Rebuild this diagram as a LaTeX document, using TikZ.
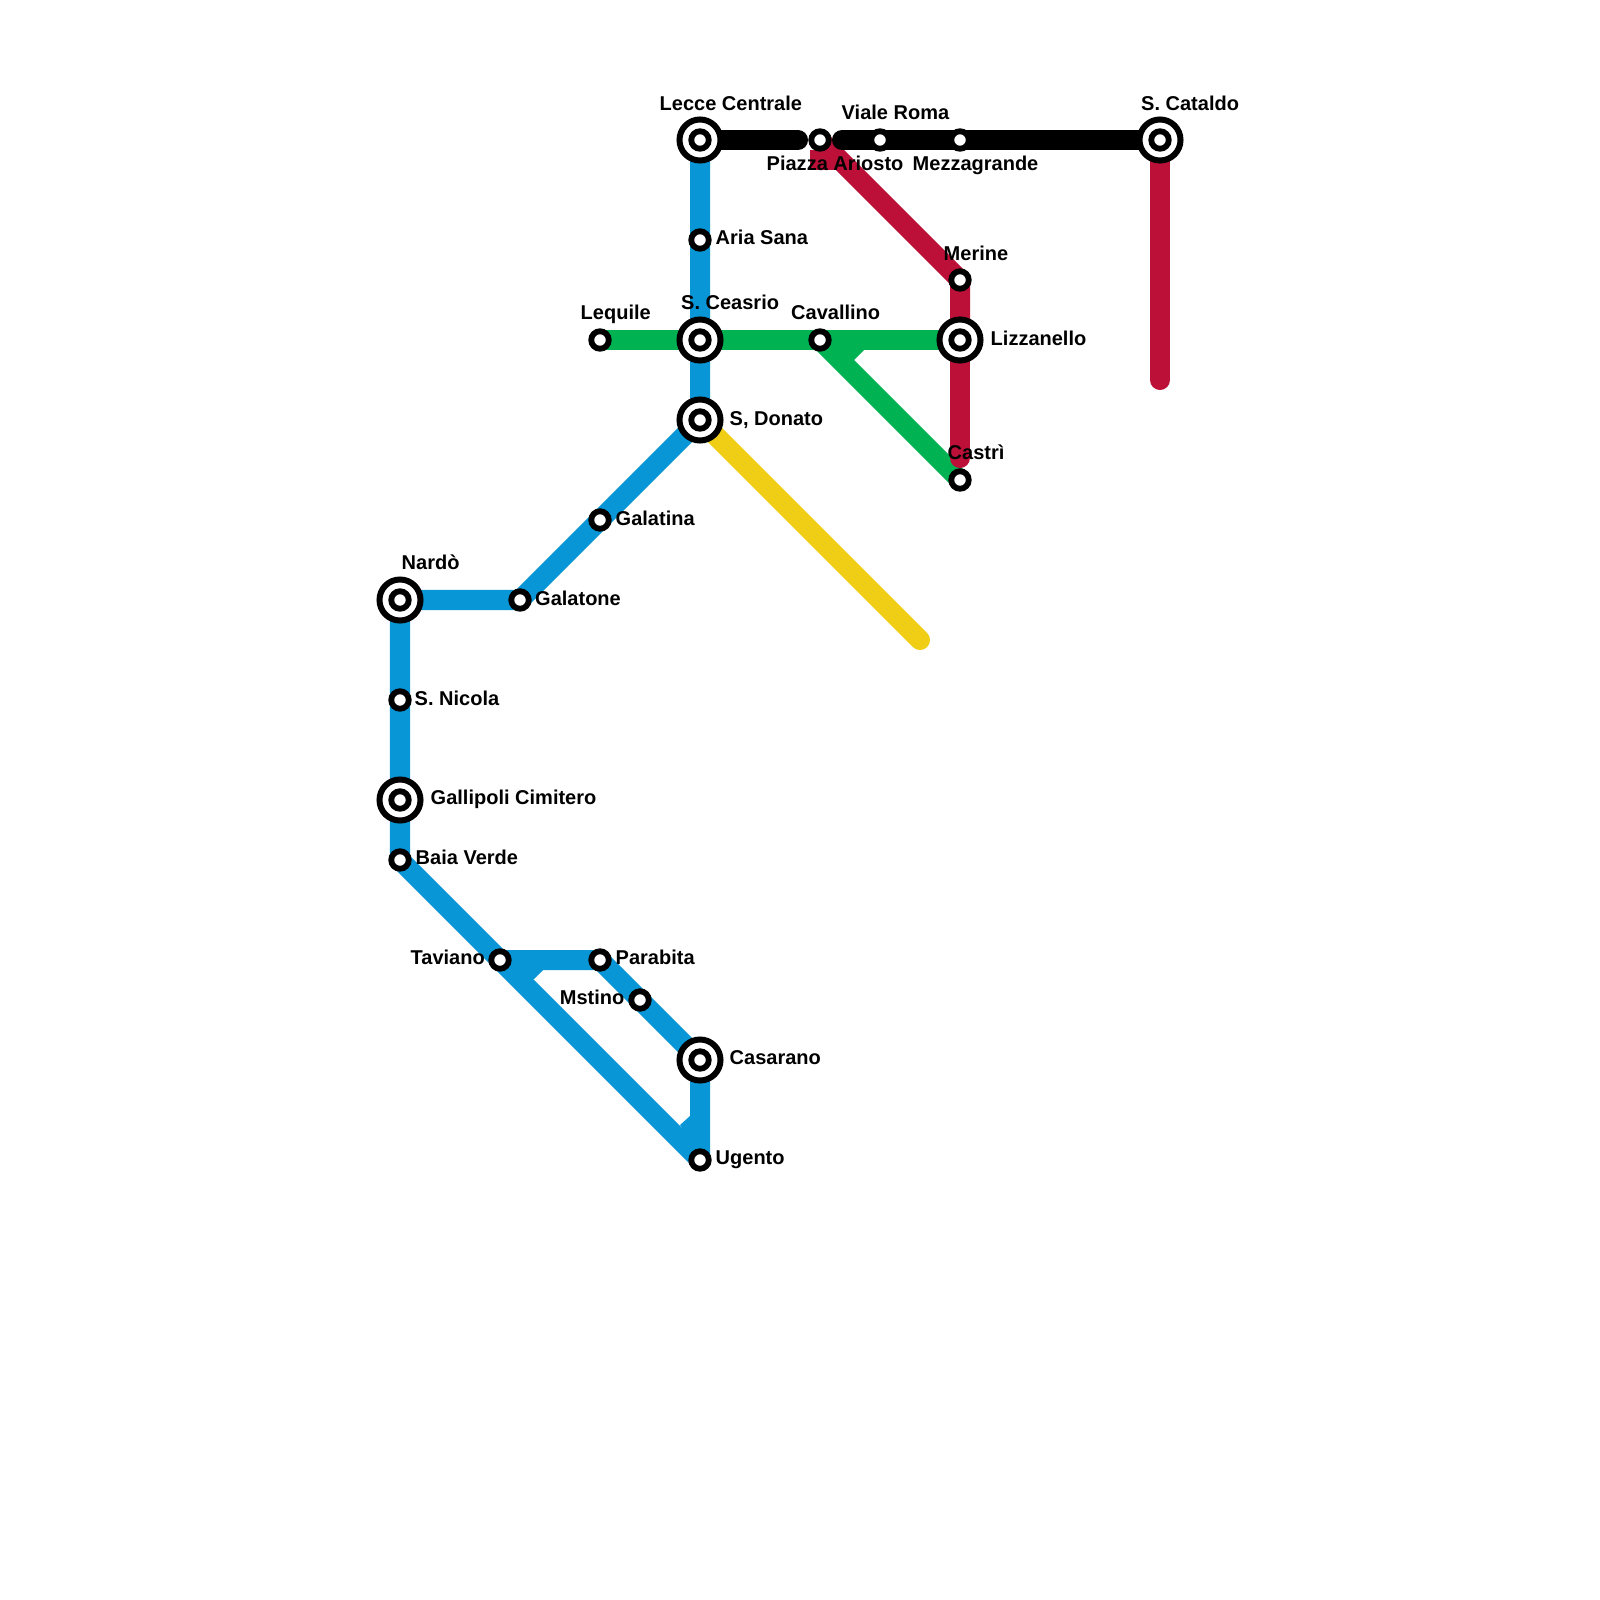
\documentclass[tikz,border=0pt]{standalone}
\usepackage{fontspec}
\setmainfont{Liberation Sans}
\usetikzlibrary{backgrounds}
\definecolor{lineblue}{HTML}{0896D7}
\definecolor{linegreen}{HTML}{00B251}
\definecolor{linered}{HTML}{BD1038}
\definecolor{lineyellow}{HTML}{F0CE15}
\tikzset{
  every node/.style={font=\fontsize{5.69}{6.8}\selectfont\bfseries,text=black},
  stopbox/.style={circle,draw=black,fill=white,line width=0.058cm,minimum size=0.175cm,inner sep=0pt},
  hubbox/.style={circle,draw=black,fill=white,line width=0.06cm,minimum size=0.41cm,inner sep=0pt},
  lbl/.style={anchor=base west,inner sep=0pt},
  lblr/.style={anchor=base east,inner sep=0pt},
  route/.style={line width=0.2cm,line join=round},
  blueroute/.style={route,draw=lineblue},
  greenroute/.style={route,draw=linegreen},
  redroute/.style={route,draw=linered},
  yellowroute/.style={route,draw=lineyellow,line cap=round},
  blackroute/.style={route,draw=black,line cap=round},
}
\begin{document}
\begin{tikzpicture}[x=0.01cm,y=-0.01cm]
\useasboundingbox (0,0) rectangle (1600,1600);

% interchanges
\foreach \n/\x/\y in {lecce/700/140,ceasrio/700/340,donato/700/420,lizzanello/960/340,cataldo/1160/140,nardo/400/600,gallipoli/400/800,casarano/700/1060} {
  \node[hubbox] (\n) at (\x,\y) {};
  \node[stopbox] (\n in) at (\x,\y) {};
}
% plain stops
\foreach \n/\x/\y in {aria/700/240,lequile/600/340,cavallino/820/340,castri/960/480,merine/960/280,ariosto/820/140,viale/880/140,mezza/960/140,galatina/600/520,galatone/520/600,nicola/400/700,baia/400/860,taviano/500/960,parabita/600/960,mstino/640/1000,ugento/700/1160} {
  \node[stopbox] (\n) at (\x,\y) {};
}

% free line ends
\coordinate (blackA) at (798,140);
\coordinate (blackB) at (842,140);
\coordinate (redend) at (1160,380);
\coordinate (redcastri) at (960,458);
\coordinate (yellowend) at (920,640);

\begin{scope}[on background layer]
% blue line
\draw[blueroute] (lecce.center) -- (donato.center) -- (galatone.center) -- (nardo.center) -- (baia.center) -- (ugento.center) -- (casarano.center) -- (parabita.center) -- (taviano.center);
\fill[lineblue] (510,970) -- (543,970) -- (534,979) -- (520,979) -- cycle;
\fill[lineblue] (690,1116) -- (680,1125) -- (690,1140) -- (700,1130) -- cycle;
% green line
\draw[greenroute] (lequile.center) -- (lizzanello.center);
\draw[greenroute] (cavallino.center) -- (castri.center);
\fill[linegreen] (830,350) -- (864,350) -- (854,360) -- (840,360) -- cycle;
% yellow line
\draw[yellowroute] (donato.center) -- (yellowend);
% red line
\draw[redroute] (ariosto.center) -- (merine.center) -- (lizzanello.center);
\draw[redroute,line cap=round] (lizzanello.center) -- (redcastri);
\draw[redroute,line cap=round] (cataldo.center) -- (redend);
\fill[linered] (810,150) rectangle (837,170);
% black line
\draw[blackroute] (lecce.center) -- (blackA);
\draw[blackroute] (blackB) -- (cataldo.center);
\end{scope}

% labels
\node[lbl] (lecceT) at (659,110.5) {Lecce Centrale};
\node[lbl] (vialeT) at (841,120) {Viale Roma};
\node[lbl] (ariostoT) at (766,171) {Piazza Ariosto};
\node[lbl] (mezzaT) at (912,171) {Mezzagrande};
\node[lbl] (cataldoT) at (1140.5,110.5) {S. Cataldo};
\node[lbl] (ariaT) at (715,245) {Aria Sana};
\node[lbl] (merineT) at (943,260) {Merine};
\node[lbl] (ceasrioT) at (680.5,309.5) {S. Ceasrio};
\node[lbl] (lequileT) at (580,319.5) {Lequile};
\node[lbl] (cavallinoT) at (790.5,319.5) {Cavallino};
\node[lbl] (lizzanelloT) at (990,345) {Lizzanello};
\node[lbl] (donatoT) at (729,425) {S, Donato};
\node[lbl] (castriT) at (947,459.5) {Castrì};
\node[lbl] (galatinaT) at (615,525) {Galatina};
\node[lbl] (nardoT) at (401,569.5) {Nardò};
\node[lbl] (galatoneT) at (534.5,605) {Galatone};
\node[lbl] (nicolaT) at (414,705) {S. Nicola};
\node[lbl] (gallipoliT) at (430,804) {Gallipoli Cimitero};
\node[lbl] (baiaT) at (415,864.5) {Baia Verde};
\node[lblr] (tavianoT) at (485.5,964) {Taviano};
\node[lbl] (parabitaT) at (615,964) {Parabita};
\node[lblr] (mstinoT) at (625,1004.5) {Mstino};
\node[lbl] (casaranoT) at (729,1064.5) {Casarano};
\node[lbl] (ugentoT) at (715,1164.5) {Ugento};
\end{tikzpicture}
\end{document}
